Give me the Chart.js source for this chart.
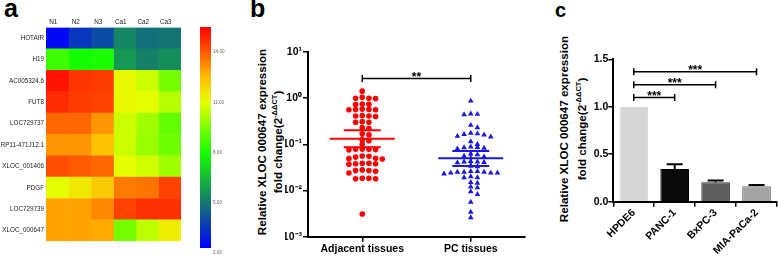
<!DOCTYPE html>
<html><head><meta charset="utf-8">
<script src="https://cdn.jsdelivr.net/npm/chart.js@4.4.1/dist/chart.umd.min.js"></script>
<style>
html,body{margin:0;padding:0;background:#fff;width:778px;height:259px;overflow:hidden;font-family:"Liberation Sans",Arial,sans-serif;}
canvas{position:absolute;}
.letter{position:absolute;font-weight:bold;color:#000;line-height:1;}
.ytitle{position:absolute;font-weight:bold;font-size:11.6px;white-space:nowrap;line-height:1;color:#000;transform:translate(-50%,-50%) rotate(-90deg);}
.ytitle sup{font-size:7.5px;vertical-align:5px;line-height:0;}
</style></head><body>
<div class="letter" style="left:4px;top:-4.5px;font-size:25px">a</div>
<div class="letter" style="left:250px;top:-4px;font-size:25px">b</div>
<div class="letter" style="left:555px;top:0px;font-size:20px">c</div>

<div class="ytitle" style="left:262px;top:142px">Relative XLOC 000647 expression</div>
<div class="ytitle" style="left:278px;top:142px">fold change(2<sup>-ΔΔCT</sup>)</div>
<div class="ytitle" style="left:564px;top:129px">Relative XLOC 000647 expression</div>
<div class="ytitle" style="left:582px;top:129px">fold change(2<sup>-ΔΔCT</sup>)</div>

<canvas id="ca" width="182" height="242" style="left:0px;top:5px"></canvas>
<canvas id="cbar" width="40" height="244" style="left:195px;top:15px"></canvas>
<canvas id="cb" width="250" height="229" style="left:285px;top:30px"></canvas>
<canvas id="cc" width="188" height="229" style="left:590px;top:30px"></canvas>

<script>
// ---------- Panel a: heatmap data ----------
const heatRows = ['HOTAIR','H19','AC005324.6','FUT8','LOC729737','RP11-471J12.1','XLOC_001406','PDGF','LOC729739','XLOC_000647'];
const heatCols = ['N1','N2','N3','Ca1','Ca2','Ca3'];
const heatN1  = [2.5, 8.6, 15.2, 14.8, 13.8, 13.1, 14.2, 11.0, 12.9, 12.9];
const heatN2  = [3.5, 8.0, 14.6, 14.5, 13.8, 13.1, 14.0, 11.5, 12.9, 12.9];
const heatN3  = [4.0, 8.1, 14.5, 14.4, 13.1, 12.4, 13.8, 12.2, 13.3, 12.8];
const heatCa1 = [5.3, 5.7, 11.1, 11.1, 10.6, 10.6, 11.0, 13.5, 14.4, 9.4];
const heatCa2 = [4.8, 5.2, 10.6, 11.0, 10.0, 9.9, 10.7, 13.6, 14.7, 10.4];
const heatCa3 = [4.9, 5.5, 9.4, 10.3, 9.1, 9.3, 10.0, 14.4, 14.7, 11.4];
const colorbarTicks = [2, 5, 8, 11, 14];
const colorbarRange = [2.3, 15.5];

// ---------- Panel b: scatter data ----------
const groupNames = ['Adjacent tissues','PC tissues'];
const adjacentValues = [1.42,
 1.05, 1.0, 1.0, 0.98,
 0.75, 0.74, 0.73,
 0.58, 0.57, 0.57, 0.56, 0.56,
 0.42, 0.41, 0.41, 0.40,
 0.31, 0.30, 0.30,
 0.23, 0.22,
 0.17, 0.16,
 0.125, 0.12,
 0.10,
 0.079, 0.078, 0.078, 0.077, 0.076,
 0.056, 0.055, 0.053, 0.050, 0.049, 0.048,
 0.039, 0.039, 0.038, 0.038, 0.037,
 0.028, 0.027, 0.027, 0.026, 0.024,
 0.0185, 0.0185, 0.018, 0.018,
 0.0031];
const pcValues = [0.87,
 0.46, 0.45, 0.44,
 0.26, 0.23,
 0.175, 0.17, 0.165, 0.16, 0.15, 0.145,
 0.115,
 0.10, 0.088, 0.086, 0.085, 0.083, 0.08,
 0.062, 0.06, 0.056, 0.054,
 0.043, 0.042, 0.042, 0.041, 0.04,
 0.034, 0.033,
 0.026, 0.026, 0.025, 0.025, 0.025, 0.024, 0.024, 0.024, 0.023,
 0.02, 0.019, 0.019,
 0.015, 0.0145,
 0.012, 0.0115,
 0.0095, 0.0083, 0.0056, 0.0034, 0.0026];
const groupMean  = [0.132, 0.050];
const groupUpper = [0.203, 0.072];
const groupLower = [0.086, 0.034];
const yTicksB = [0.001, 0.01, 0.1, 1, 10];
const yTickLabelsB = ['10⁻³','10⁻²','10⁻¹','10⁰','10¹'];
const sigBFrom = 0, sigBTo = 1, sigBLevel = 2.67, sigBLabel = '**';

// ---------- Panel c: bar data ----------
const cellLines = ['HPDE6','PANC-1','BxPC-3','MIA-PaCa-2'];
const cellMeans = [1.0, 0.345, 0.205, 0.162];
const cellSEM   = [0, 0.05, 0.017, 0.014];
const sigCFrom  = [0, 0, 0];
const sigCTo    = [1, 2, 3];
const sigCLevel = [1.097, 1.231, 1.368];
const sigCLabel = ['***','***','***'];

// ---------- styles ----------
Chart.defaults.font.family = '"Liberation Sans", Arial, sans-serif';
const cmapValues = [2.3, 5, 8, 11, 12.5, 14, 15.5];
const cmapColors = [[0,0,255],[20,120,110],[20,255,0],[230,255,0],[255,190,0],[255,90,0],[255,0,0]];
function valueToColor(v){
  if (v <= cmapValues[0]) return 'rgb(' + cmapColors[0].join(',') + ')';
  for (let i = 1; i < cmapValues.length; i++){
    if (v <= cmapValues[i]){
      const f = (v - cmapValues[i-1]) / (cmapValues[i] - cmapValues[i-1]);
      const a = cmapColors[i-1], b = cmapColors[i];
      return 'rgb(' + a.map((c,k) => Math.round(c + (b[k]-c)*f)).join(',') + ')';
    }
  }
  return 'rgb(' + cmapColors[cmapColors.length-1].join(',') + ')';
}
const noInteract = {responsive:false, animation:false, events:[]};

// ---------- heatmap ----------
const heatByCol = [heatN1, heatN2, heatN3, heatCa1, heatCa2, heatCa3];
new Chart(document.getElementById('ca'), {
  type:'bar',
  data:{
    labels: heatRows,
    datasets: heatCols.map((c, ci) => ({
      label: c,
      data: heatRows.map(() => 1),
      backgroundColor: heatByCol[ci].map(valueToColor),
      borderWidth: 0, barPercentage: 1, categoryPercentage: 1
    }))
  },
  options:{
    ...noInteract, indexAxis:'y',
    layout:{padding:{left:0,right:1,top:0,bottom:0}},
    plugins:{legend:{display:false}, tooltip:{enabled:false}},
    scales:{
      x:{type:'linear', stacked:true, min:0, max:heatCols.length, display:false},
      xTop:{type:'category', labels:heatCols, position:'top', offset:true,
        grid:{display:false, drawTicks:false, tickLength:0}, border:{display:false},
        afterFit: s => { s.height = 22.5; },
        ticks:{font:{size:6.4}, color:'#222', padding:1, maxRotation:0, labelOffset:-4}},
      y:{type:'category', stacked:true, grid:{display:false, drawTicks:false, tickLength:0}, border:{display:false},
        afterFit: s => { s.width = 46; },
        ticks:{font:{size:6.3}, color:'#222', padding:2, autoSkip:false}}
    }
  }
});

// ---------- colorbar ----------
new Chart(document.getElementById('cbar'), {
  type:'bar',
  data:{labels:['scale'], datasets:[{
    data:[colorbarRange],
    backgroundColor: ctx => {
      const ch = ctx.chart, ca = ch.chartArea;
      if (!ca) return '#888';
      const g = ch.ctx.createLinearGradient(0, ca.bottom, 0, ca.top);
      cmapValues.forEach((v,i) => {
        const f = (v - colorbarRange[0]) / (colorbarRange[1] - colorbarRange[0]);
        g.addColorStop(Math.min(1, Math.max(0, f)), 'rgb(' + cmapColors[i].join(',') + ')');
      });
      return g;
    },
    borderWidth:0, barPercentage:1, categoryPercentage:1
  }]},
  options:{
    ...noInteract,
    layout:{padding:{left:5,right:0,top:12,bottom:11}},
    plugins:{legend:{display:false}, tooltip:{enabled:false}},
    scales:{
      x:{display:false},
      y:{position:'right', min:colorbarRange[0], max:colorbarRange[1],
        afterBuildTicks: s => { s.ticks = colorbarTicks.map(v => ({value:v})); },
        afterFit: s => { s.width = 24; },
        grid:{display:false, drawTicks:false, tickLength:0}, border:{display:false},
        ticks:{callback: v => Number(v).toFixed(2), font:{size:4.6}, color:'#666', padding:2, autoSkip:false}}
    }
  }
});

// ---------- row-based dot-plot layout (points of similar value share a row) ----------
const PX_PER_DECADE = 46.2, PX_PER_XUNIT = 108.5, DOT = 6.67, ROW_TOL = 4.0;
function dotRows(values, center){
  const sorted = values.slice().sort((a,b) => b - a);
  const rows = [];
  sorted.forEach(v => {
    const ypx = Math.log10(v) * PX_PER_DECADE;
    const row = rows[rows.length - 1];
    if (row && Math.abs(row.start - ypx) < ROW_TOL) row.vals.push(v);
    else rows.push({start: ypx, vals: [v]});
  });
  const out = [];
  rows.forEach(r => {
    r.vals.forEach((v, i) => {
      const col = i === 0 ? 0 : (i % 2 === 1 ? (i + 1) / 2 : -i / 2);
      out.push({x: center + col * DOT / PX_PER_XUNIT, y: v});
    });
  });
  return out;
}

const groupColors = ['#ff0000', '#1a1ae0'];
const axisStyle = {grid:{drawOnChartArea:false, tickLength:5, color:'#000', lineWidth:1.5}, border:{color:'#000', width:2}};

function drawBracket(ctx, x1, x2, y, label){
  ctx.save();
  ctx.strokeStyle = '#000'; ctx.lineWidth = 1.5;
  ctx.beginPath();
  ctx.moveTo(x1, y); ctx.lineTo(x2, y);
  ctx.moveTo(x1, y - 3.5); ctx.lineTo(x1, y + 3.5);
  ctx.moveTo(x2, y - 3.5); ctx.lineTo(x2, y + 3.5);
  ctx.stroke();
  ctx.fillStyle = '#000';
  ctx.font = 'bold 12px "Liberation Sans", Arial, sans-serif';
  ctx.textAlign = 'center'; ctx.textBaseline = 'alphabetic';
  ctx.fillText(label, (x1 + x2) / 2, y + 2.5);
  ctx.restore();
}

// ---------- scatter ----------
new Chart(document.getElementById('cb'), {
  type:'scatter',
  data:{datasets:[
    {data: dotRows(adjacentValues, 1), pointStyle:'circle', pointRadius:2.8, backgroundColor:groupColors[0], borderWidth:0},
    {data: dotRows(pcValues, 2), pointStyle:'triangle', pointRadius:3.3, backgroundColor:groupColors[1], borderWidth:0}
  ]},
  options:{
    ...noInteract,
    layout:{padding:{top:22, right:10, left:0, bottom:0}},
    plugins:{legend:{display:false}, tooltip:{enabled:false}},
    scales:{
      x:{type:'linear', min:0.5, max:2.5, ...axisStyle,
        afterBuildTicks: s => { s.ticks = groupNames.map((n,i) => ({value:i+1})); },
        afterFit: s => { s.height = 22.3; },
        ticks:{callback:(v,i) => groupNames[i], font:{size:10.5, weight:'bold'}, color:'#000', padding:1, maxRotation:0, autoSkip:false}},
      y:{type:'logarithmic', min:yTicksB[0], max:yTicksB[yTicksB.length-1], ...axisStyle,
        afterBuildTicks: s => { s.ticks = yTicksB.map(v => ({value:v})); },
        afterFit: s => { s.width = 23; },
        ticks:{callback:(v,i) => yTickLabelsB[i], font:{size:10.5, weight:'bold'}, color:'#000', padding:1, autoSkip:false}}
    }
  },
  plugins:[{id:'summary', afterDatasetsDraw(chart){
    const {ctx, scales:{x, y}} = chart;
    ctx.save();
    groupMean.forEach((m, i) => {
      const cx = x.getPixelForValue(i + 1);
      const ym = y.getPixelForValue(m), yu = y.getPixelForValue(groupUpper[i]), yl = y.getPixelForValue(groupLower[i]);
      ctx.strokeStyle = groupColors[i]; ctx.lineWidth = 2;
      ctx.beginPath();
      ctx.moveTo(cx - 32.5, ym); ctx.lineTo(cx + 32.5, ym);
      ctx.moveTo(cx, yu); ctx.lineTo(cx, yl);
      ctx.moveTo(cx - 18.5, yu); ctx.lineTo(cx + 18.5, yu);
      ctx.moveTo(cx - 18.5, yl); ctx.lineTo(cx + 18.5, yl);
      ctx.stroke();
    });
    ctx.restore();
    drawBracket(ctx, x.getPixelForValue(sigBFrom + 1), x.getPixelForValue(sigBTo + 1), y.getPixelForValue(sigBLevel), sigBLabel);
  }}]
});

// ---------- bar chart ----------
const cellColors  = ['#d6d6d6', '#0a0a0a', '#5e5e5e', '#a3a3a3'];
const cellBorders = ['#d6d6d6', '#000000', '#333333', '#6e6e6e'];
new Chart(document.getElementById('cc'), {
  type:'bar',
  data:{labels: cellLines, datasets:[{data: cellMeans, backgroundColor: cellColors, borderColor: cellBorders,
    borderWidth: 1, barPercentage: 0.7, categoryPercentage: 1}]},
  options:{
    ...noInteract,
    layout:{padding:{top:29.3, right:1, left:0, bottom:0}},
    plugins:{legend:{display:false}, tooltip:{enabled:false}},
    scales:{
      x:{...axisStyle, afterFit: s => { s.height = 57.3; },
        ticks:{maxRotation:45, minRotation:45, font:{size:10.5, weight:'bold'}, color:'#000', padding:0, autoSkip:false}},
      y:{min:0, max:1.5, ...axisStyle, afterFit: s => { s.width = 23.3; },
        ticks:{stepSize:0.5, callback: v => Number(v).toFixed(1), font:{size:10.5, weight:'bold'}, color:'#000', padding:0}}
    }
  },
  plugins:[{id:'errs', afterDatasetsDraw(chart){
    const {ctx, scales:{x, y}} = chart;
    ctx.save();
    ctx.strokeStyle = '#000'; ctx.lineWidth = 2;
    cellMeans.forEach((m, i) => {
      if (!cellSEM[i]) return;
      const cx = x.getPixelForValue(i), y0 = y.getPixelForValue(m), y1 = y.getPixelForValue(m + cellSEM[i]);
      ctx.beginPath();
      ctx.moveTo(cx, y0); ctx.lineTo(cx, y1);
      ctx.moveTo(cx - 8, y1); ctx.lineTo(cx + 8, y1);
      ctx.stroke();
    });
    ctx.restore();
    sigCLevel.forEach((lv, i) => drawBracket(ctx, x.getPixelForValue(sigCFrom[i]), x.getPixelForValue(sigCTo[i]), y.getPixelForValue(lv), sigCLabel[i]));
  }}]
});
</script>
</body></html>
